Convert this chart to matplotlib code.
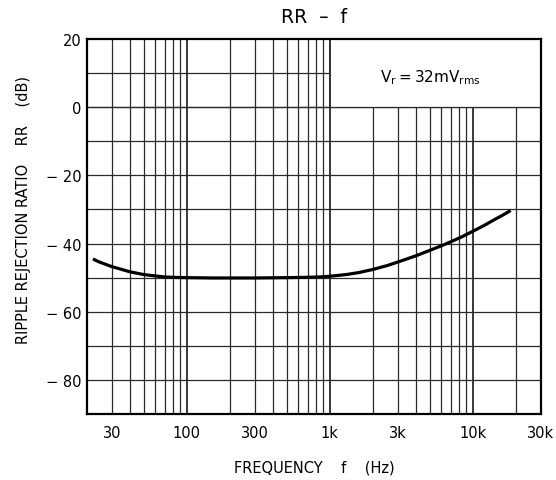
import matplotlib
matplotlib.use("Agg")
import matplotlib.pyplot as plt
from matplotlib.patches import Rectangle
import numpy as np

freq = [22, 24, 27, 30, 35, 40, 50, 60, 70, 85, 100, 150, 200, 300, 500, 700,
        850, 1000, 1300, 1600, 2000, 2500, 3000, 4000, 5000, 6000, 7000, 8500,
        10000, 12000, 14000, 16000, 18400]
rr_db = [-44.5, -45.3, -46.1, -46.8, -47.6, -48.3, -49.1, -49.5, -49.8, -49.95,
         -50.0, -50.1, -50.1, -50.1, -50.0, -49.9, -49.8, -49.6, -49.1, -48.5,
         -47.6, -46.5, -45.4, -43.6, -42.0, -40.7, -39.5, -37.9, -36.4, -34.7,
         -33.1, -31.8, -30.3]

xticks = [30, 100, 300, 1000, 3000, 10000, 30000]
xtick_labels = ["30", "100", "300", "1k", "3k", "10k", "30k"]
yticks = [20, 0, -20, -40, -60, -80]
ytick_labels = ["20", "0", "\u2212 20", "\u2212 40", "\u2212 60", "\u2212 80"]

plt.rcParams['font.family'] = ['DejaVu Sans']

fig = plt.figure(figsize=(5.56, 4.81), dpi=100)
ax = fig.add_axes([87/556, 1-415/481, 454/556, 375/481])
ax.set_xscale('log')
ax.set_xlim(20, 30000)
ax.set_ylim(-90, 20)

# grid
vlines = []
for dec in [10, 100, 1000, 10000]:
    for m in range(1, 10):
        v = m * dec
        if 20 < v < 30000:
            vlines.append(v)
for v in vlines:
    lw = 1.3 if v in (100, 1000, 10000) else 0.9
    ax.axvline(v, color='#2a2a2a', lw=lw, zorder=1)
for h in range(-80, 20, 10):
    ax.axhline(h, color='#2a2a2a', lw=0.9, zorder=1)

ax.add_patch(Rectangle((1000, 0), 29000, 20, facecolor='white', edgecolor='none', zorder=1.5))
ax.plot([1000, 1000], [0, 20], color='#2a2a2a', lw=1.3, zorder=1.6)
ax.axhline(0, color='#2a2a2a', lw=0.9, zorder=1.6)

ax.plot(freq, rr_db, color='black', lw=2.3, zorder=3, solid_capstyle='butt')

ax.text(5000, 9, r"$\mathregular{V_r = 32mV_{rms}}$", ha='center', va='center', fontsize=11, zorder=4)

ax.set_xticks(xticks)
ax.set_xticklabels(xtick_labels)
ax.xaxis.set_minor_locator(matplotlib.ticker.NullLocator())
ax.set_yticks(yticks)
ax.set_yticklabels(ytick_labels)
ax.tick_params(length=0, labelsize=10.5, pad=4)
ax.tick_params(axis='x', pad=8)

for s in ax.spines.values():
    s.set_linewidth(1.6)
    s.set_zorder(5)

ax.set_title("RR  \u2013  f", fontsize=13.5, pad=12)
ax.set_xlabel("FREQUENCY    f    (Hz)", fontsize=10.5, labelpad=14)
ax.set_ylabel("RIPPLE REJECTION RATIO    RR    (dB)", fontsize=10.5)
ax.yaxis.set_label_coords(-0.123, 0.547)

fig.savefig("out.png", dpi=100)
